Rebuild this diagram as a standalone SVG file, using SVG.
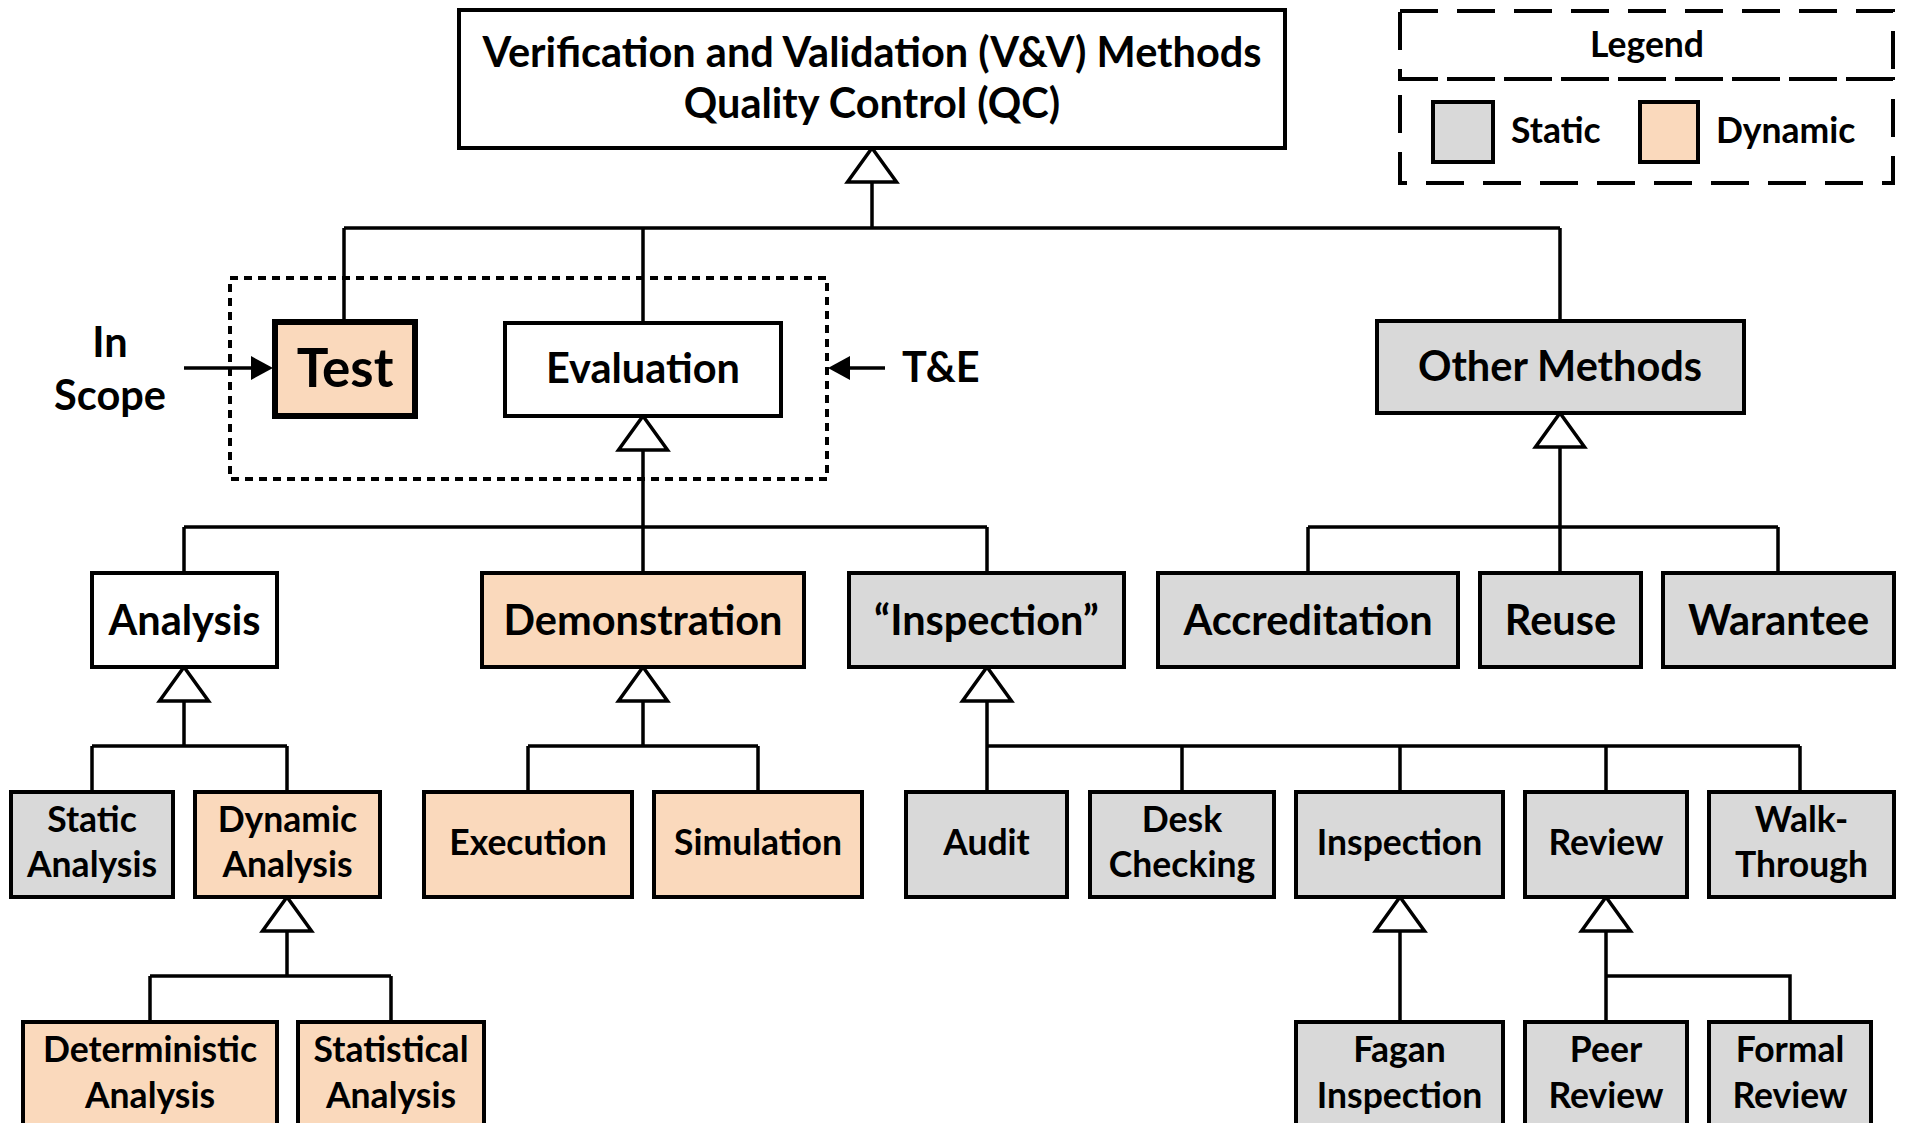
<svg xmlns="http://www.w3.org/2000/svg" width="1905" height="1123" viewBox="0 0 1905 1123">
<style>
.box{stroke:#000;stroke-width:4;}
.w{fill:#fff}
.g{fill:#D9D9D9}
.p{fill:#FAD9BC}
.thick{stroke-width:6}
text{font-family:Lato,"Liberation Sans",sans-serif;font-weight:bold;fill:#000}
.t{font-size:41.5px;text-anchor:middle}
.s{font-size:35.5px;text-anchor:middle}
.big{font-size:53px;text-anchor:middle}
.ln{stroke:#000;stroke-width:3.5;fill:none}
.tri{stroke:#000;stroke-width:3.5;fill:#fff;stroke-linejoin:miter}
</style>
<defs>
<path id="gen" d="M0,0 L24.5,34 L-24.5,34 Z"/>
</defs>
<rect width="1905" height="1123" fill="#fff"/>

<g id="connectors">
<!-- V&V -->
<path class="ln" d="M872,183 V228 M344,228 H1560 M344,228 V322 M643,228 V323 M1560,228 V321"/>
<use href="#gen" x="872" y="148" class="tri"/>
<!-- Evaluation -->
<path class="ln" d="M643,450 V527 M184,527 H987 M184,527 V573 M643,527 V573 M987,527 V573"/>
<use href="#gen" x="643" y="416" class="tri"/>
<!-- Other Methods -->
<path class="ln" d="M1560,447 V527 M1308,527 H1778 M1308,527 V573 M1560,527 V573 M1778,527 V573"/>
<use href="#gen" x="1560" y="413" class="tri"/>
<!-- Analysis -->
<path class="ln" d="M184,701 V746 M92,746 H287 M92,746 V792 M287,746 V792"/>
<use href="#gen" x="184" y="667" class="tri"/>
<!-- Demonstration -->
<path class="ln" d="M643,701 V746 M528,746 H758 M528,746 V792 M758,746 V792"/>
<use href="#gen" x="643" y="667" class="tri"/>
<!-- Inspection quoted -->
<path class="ln" d="M987,701 V792 M987,746 H1800 M1182,746 V792 M1400,746 V792 M1606,746 V792 M1800,746 V792"/>
<use href="#gen" x="987" y="667" class="tri"/>
<!-- Dynamic Analysis -->
<path class="ln" d="M287,931 V976 M150,976 H391 M150,976 V1022 M391,976 V1022"/>
<use href="#gen" x="287" y="897" class="tri"/>
<!-- Inspection -->
<path class="ln" d="M1400,931 V1022"/>
<use href="#gen" x="1400" y="897" class="tri"/>
<!-- Review -->
<path class="ln" d="M1606,931 V1022 M1606,976 H1790 V1022"/>
<use href="#gen" x="1606" y="897" class="tri"/>
<!-- In Scope arrow -->
<path class="ln" d="M184,368 H256"/>
<path d="M273,368 L251,356 L251,380 Z" fill="#000"/>
<!-- T&E arrow -->
<path class="ln" d="M845,368 H885"/>
<path d="M828,368 L850,356 L850,380 Z" fill="#000"/>
</g>

<g id="scope">
<rect x="230" y="278" width="597" height="201" fill="none" stroke="#000" stroke-width="4" stroke-dasharray="8 6"/>
<text class="t" x="110" y="357">In</text>
<text class="t" x="110" y="410">Scope</text>
<text x="902" y="382" style="font-size:41.5px">T&amp;E</text>
</g>

<g id="legend">
<rect x="1400" y="11" width="493" height="68" fill="none" stroke="#000" stroke-width="4" stroke-dasharray="38 19"/>
<rect x="1400" y="79" width="493" height="104" fill="none" stroke="#000" stroke-width="4" stroke-dasharray="38 19"/>
<text class="s" x="1647" y="57">Legend</text>
<rect class="box g" x="1433" y="102" width="60" height="60"/>
<text x="1511" y="143" style="font-size:35.5px">Static</text>
<rect class="box p" x="1640" y="102" width="58" height="60"/>
<text x="1716" y="143" style="font-size:35.5px">Dynamic</text>
</g>

<g id="vv">
<rect class="box w" x="459" y="10" width="826" height="138"/>
<text class="t" x="872" y="67">Verification and Validation (V&amp;V) Methods</text>
<text class="t" x="872" y="118">Quality Control (QC)</text>
</g>
<g id="test"><rect class="box p thick" x="275" y="322" width="140" height="94"/><text class="big" x="345" y="387">Test</text></g>
<g id="evaluation"><rect class="box w" x="505" y="323" width="276" height="93"/><text class="t" x="643" y="383">Evaluation</text></g>
<g id="other-methods"><rect class="box g" x="1377" y="321" width="367" height="92"/><text class="t" x="1560" y="381">Other Methods</text></g>

<g id="analysis"><rect class="box w" x="92" y="573" width="185" height="94"/><text class="t" x="184.5" y="635">Analysis</text></g>
<g id="demonstration"><rect class="box p" x="482" y="573" width="322" height="94"/><text class="t" x="643" y="635">Demonstration</text></g>
<g id="inspection-q"><rect class="box g" x="849" y="573" width="275" height="94"/><text class="t" x="986.5" y="635">“Inspection”</text></g>
<g id="accreditation"><rect class="box g" x="1158" y="573" width="300" height="94"/><text class="t" x="1308" y="635">Accreditation</text></g>
<g id="reuse"><rect class="box g" x="1480" y="573" width="161" height="94"/><text class="t" x="1560.5" y="635">Reuse</text></g>
<g id="warantee"><rect class="box g" x="1663" y="573" width="231" height="94"/><text class="t" x="1778.5" y="635">Warantee</text></g>

<g id="static-analysis"><rect class="box g" x="11" y="792" width="162" height="105"/><text class="s" x="92" y="832">Static</text><text class="s" x="92" y="877">Analysis</text></g>
<g id="dynamic-analysis"><rect class="box p" x="195" y="792" width="185" height="105"/><text class="s" x="287.5" y="832">Dynamic</text><text class="s" x="287.5" y="877">Analysis</text></g>
<g id="execution"><rect class="box p" x="424" y="792" width="208" height="105"/><text class="s" x="528" y="855">Execution</text></g>
<g id="simulation"><rect class="box p" x="654" y="792" width="208" height="105"/><text class="s" x="758" y="855">Simulation</text></g>
<g id="audit"><rect class="box g" x="906" y="792" width="161" height="105"/><text class="s" x="986.5" y="855">Audit</text></g>
<g id="desk-checking"><rect class="box g" x="1090" y="792" width="184" height="105"/><text class="s" x="1182" y="832">Desk</text><text class="s" x="1182" y="877">Checking</text></g>
<g id="inspection"><rect class="box g" x="1296" y="792" width="207" height="105"/><text class="s" x="1399.5" y="855">Inspection</text></g>
<g id="review"><rect class="box g" x="1525" y="792" width="162" height="105"/><text class="s" x="1606" y="855">Review</text></g>
<g id="walk-through"><rect class="box g" x="1709" y="792" width="185" height="105"/><text class="s" x="1801.5" y="832">Walk-</text><text class="s" x="1801.5" y="877">Through</text></g>

<g id="deterministic-analysis"><rect class="box p" x="23" y="1022" width="254" height="120"/><text class="s" x="150" y="1062">Deterministic</text><text class="s" x="150" y="1108">Analysis</text></g>
<g id="statistical-analysis"><rect class="box p" x="298" y="1022" width="186" height="120"/><text class="s" x="391" y="1062">Statistical</text><text class="s" x="391" y="1108">Analysis</text></g>
<g id="fagan-inspection"><rect class="box g" x="1296" y="1022" width="207" height="120"/><text class="s" x="1399.5" y="1062">Fagan</text><text class="s" x="1399.5" y="1108">Inspection</text></g>
<g id="peer-review"><rect class="box g" x="1525" y="1022" width="162" height="120"/><text class="s" x="1606" y="1062">Peer</text><text class="s" x="1606" y="1108">Review</text></g>
<g id="formal-review"><rect class="box g" x="1709" y="1022" width="162" height="120"/><text class="s" x="1790" y="1062">Formal</text><text class="s" x="1790" y="1108">Review</text></g>
</svg>
